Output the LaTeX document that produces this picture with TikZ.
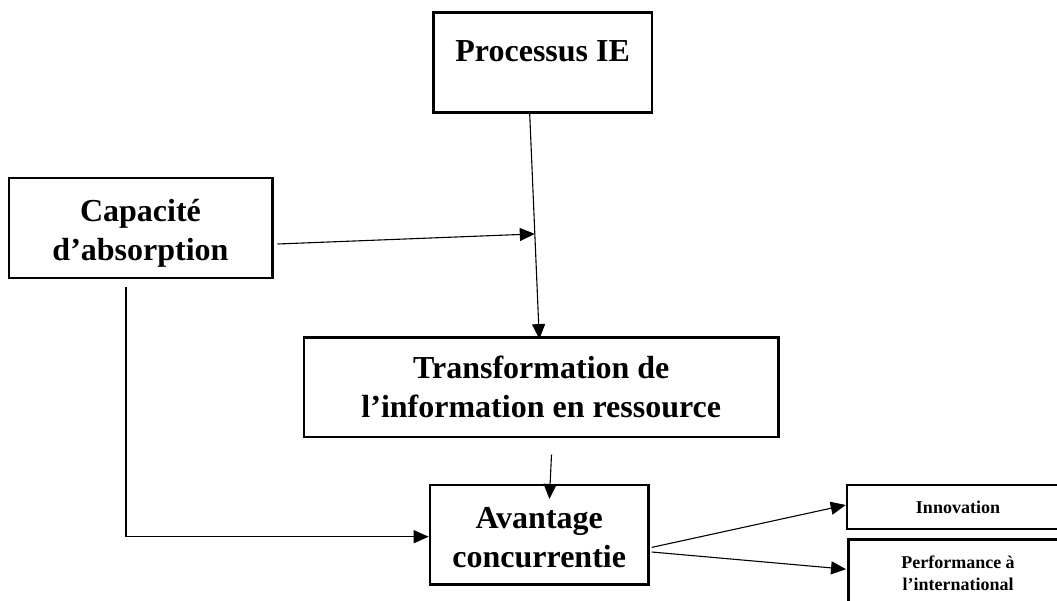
\documentclass[tikz,border=0pt]{standalone}
\usepackage{fontspec}
\setmainfont{Liberation Serif}
\usetikzlibrary{arrows.meta,calc}

\tikzset{
  box/.style={draw=black, line width=2.5pt, fill=white, inner sep=0pt},
  boxtext/.style={inner sep=0pt, align=center,
                  font=\bfseries\fontsize{32}{39}\selectfont},
  smalltext/.style={inner sep=0pt, align=center,
                    font=\bfseries\fontsize{18}{22}\selectfont},
  conn/.style={draw=black, line width=1.1pt},
  arr/.style={conn, -{Triangle[length=15pt,width=13pt]}},
}

\begin{document}
\begin{tikzpicture}[x=1pt, y=-1pt]
  \useasboundingbox (0,0) rectangle (1057,601);
  \clip (0,0) rectangle (1057,601);
  \fill[white] (0,0) rectangle (1057,601);

  % boxes
  \node[box, minimum width=218.4pt, minimum height=100pt] (pie) at (542.7,62.6) {};
  \node[box, minimum width=263.5pt, minimum height=99.7pt] (cap) at (140.5,228) {};
  \node[box, minimum width=474.6pt, minimum height=99.7pt] (tr) at (541.3,387.2) {};
  \node[box, minimum width=218.5pt, minimum height=99.6pt] (av) at (539.2,534.7) {};
  \node[box, minimum width=222pt, minimum height=44pt] (inn) at (958,507) {};
  \node[box, minimum width=218.6pt, minimum height=68pt] (perf) at (958,573.6) {};

  % box texts
  \node[boxtext] (pietext) at ([yshift=11pt]pie.center) {Processus IE};
  \node[boxtext] (captext) at ([yshift=-5pt]cap.center) {Capacité\\d’absorption};
  \node[boxtext] (trtext) at (tr.center) {Transformation de\\l’information en ressource};
  \node[boxtext] (avtext) at ([yshift=-3pt]av.center) {Avantage\\concurrentie};
  \node[smalltext] (inntext) at (inn.center) {Innovation};
  \node[smalltext] (perftext) at (perf.center) {Performance à\\l’international};

  % connector end points
  \coordinate (p1) at ([xshift=-13pt]pie.south);
  \coordinate (p2) at ([xshift=-2pt,yshift=-3pt]tr.north);
  \coordinate (meet) at ($(p1)!0.533!(p2)$);
  \coordinate (capout) at ([xshift=4pt,yshift=-16pt]cap.east);
  \coordinate (capdown) at ([xshift=-14.5pt,yshift=-7.6pt]cap.south);
  \coordinate (trout) at ([xshift=10.2pt,yshift=-16.4pt]tr.south);
  \coordinate (avin) at ([xshift=10.2pt,yshift=-15.3pt]av.north);
  \coordinate (avout1) at ([xshift=2pt,yshift=-12.7pt]av.east);
  \coordinate (avout2) at ([xshift=2pt,yshift=-17.3pt]av.east);

  % connectors
  \draw[arr] (p1) -- (p2);
  \draw[arr] (capout) -- (meet);
  \draw[arr] (trout) -- (avin);
  \draw[arr] (capdown) |- ([yshift=-2pt]av.west);
  \draw[arr] (avout1) -- ([yshift=2pt]inn.west);
  \draw[arr] (avout2) -- ([xshift=-1.4pt,yshift=4.4pt]perf.west);
\end{tikzpicture}
\end{document}
